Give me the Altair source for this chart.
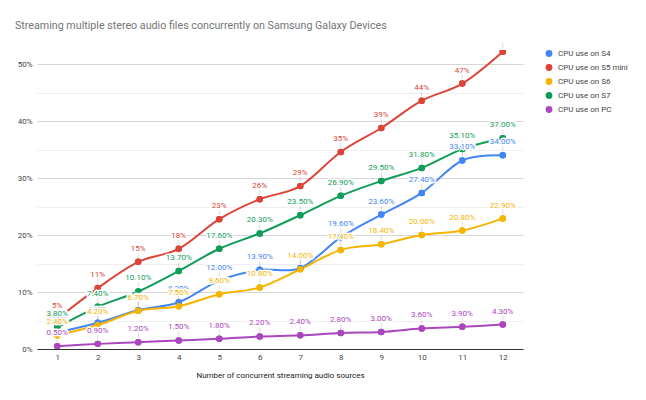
import altair as alt
import pandas as pd

# ---- data ----
sources = list(range(1, 13))
series_names = ["CPU use on S4", "CPU use on S5 mini", "CPU use on S6", "CPU use on S7", "CPU use on PC"]
cpu_s4 = [2.9, 4.6, 6.8, 8.2, 12.0, 13.9, 14.2, 19.6, 23.6, 27.4, 33.1, 34.0]
cpu_s5mini = [5.3, 10.7, 15.3, 17.6, 22.8, 26.3, 28.6, 34.6, 38.8, 43.6, 46.6, 52.2]
cpu_s6 = [2.4, 4.2, 6.7, 7.5, 9.6, 10.8, 14.0, 17.4, 18.4, 20.0, 20.8, 22.9]
cpu_s7 = [3.8, 7.4, 10.1, 13.7, 17.6, 20.3, 23.5, 26.9, 29.5, 31.8, 35.1, 37.0]
cpu_pc = [0.5, 0.9, 1.2, 1.5, 1.8, 2.2, 2.4, 2.8, 3.0, 3.6, 3.9, 4.3]
label_decimals = [2, 0, 2, 2, 2]
colors = ["#4285F4", "#DB4437", "#F4B400", "#0F9D58", "#AB47BC"]

rows = []
for si, (name, vals) in enumerate(zip(series_names, [cpu_s4, cpu_s5mini, cpu_s6, cpu_s7, cpu_pc])):
    for x, v in zip(sources, vals):
        rows.append({"x": x, "series": name, "order": si, "value": v,
                     "label": f"{v:.{label_decimals[si]}f}%"})
df = pd.DataFrame(rows)

FONT = "Roboto"

x_enc = alt.X("x:Q", scale=alt.Scale(domain=[0.5, 12.5], nice=False, zero=False),
              axis=alt.Axis(values=sources, grid=False, ticks=False, domain=True, domainColor="#333333",
                            labelFontSize=8, labelColor="#444444", labelFont=FONT, labelPadding=4,
                            title="Number of concurrent streaming audio sources", titleFont=FONT,
                            titleFontSize=8, titleFontWeight="normal", titleColor="#222222",
                            titlePadding=10))
y_enc = alt.Y("value:Q", scale=alt.Scale(domain=[0, 52.5], nice=False),
              axis=alt.Axis(values=[0, 5, 10, 15, 20, 25, 30, 35, 40, 45, 50],
                            labelExpr="datum.value % 10 === 0 ? datum.value + '%' : ''",
                            ticks=False, domain=False, labelFontSize=8, labelColor="#444444",
                            labelFont=FONT, labelPadding=5, title=None,
                            gridColor={"condition": {"test": "datum.value % 10 === 0", "value": "#d6d6d6"},
                                       "value": "#efefef"}))
color_scale = alt.Scale(domain=series_names, range=colors)
legend = alt.Legend(title=None, orient="none", legendX=508, legendY=-0.5,
                    symbolType="circle", symbolSize=46, labelFontSize=8,
                    labelFont=FONT, labelColor="#444444", rowPadding=6,
                    labelOffset=5, symbolStrokeWidth=0, symbolOpacity=1)
color_enc = alt.Color("series:N", scale=color_scale, legend=legend)

base = alt.Chart(df).encode(x=x_enc, y=y_enc)

lines = base.mark_line(interpolate="cardinal", strokeWidth=2, clip=True).encode(
    color=color_enc, detail="series:N")

stems = base.mark_rule(color="#999999", opacity=0.35, strokeWidth=1, yOffset=-4, y2Offset=-9).encode(
    y2="value:Q")

points = base.mark_circle(size=42, opacity=1, clip=True).encode(color=color_enc)

label_layers = []
for si, name in enumerate(series_names):
    sub = base.transform_filter(alt.datum.series == name)
    halo = sub.mark_text(font=FONT, fontSize=8, baseline="alphabetic", dy=-11, clip=True,
                         stroke="white", strokeWidth=3, strokeJoin="round", fill="white").encode(
        text="label:N")
    txt = sub.mark_text(font=FONT, fontSize=8, baseline="alphabetic", dy=-11, clip=True,
                        fill=colors[si]).encode(text="label:N")
    label_layers += [halo, txt]

chart = alt.layer(points, lines, stems, points, *label_layers).properties(
    width=486, height=299,
    title=alt.Title("Streaming multiple stereo audio files concurrently on Samsung Galaxy Devices",
                    anchor="start", frame="group", dx=-22, font=FONT, fontSize=10.7,
                    fontWeight="normal", color="#757575", offset=11),
    autosize=alt.AutoSizeParams(type="none"),
    padding={"left": 29, "top": 42, "right": 115, "bottom": 43},
).configure_view(stroke=None)

chart.save("out.html", embed_options={"renderer": "svg", "actions": False})
